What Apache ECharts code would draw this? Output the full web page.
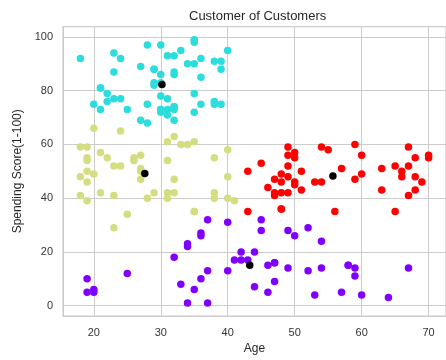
<!DOCTYPE html>
<html>
<head>
<meta charset="utf-8">
<script src="https://cdn.jsdelivr.net/npm/echarts@6/dist/echarts.min.js"></script>
<style>
  html, body { margin: 0; padding: 0; background: #fff; }
  #chart { width: 446px; height: 360px; }
</style>
</head>
<body>
<div id="chart"></div>
<script>
// [age, spending score] per cluster
const clusterCyan = [
  [21,81],[23,77],[22,76],[23,94],[30,72],[35,99],[24,77],[22,79],[35,98],[25,73],
  [31,73],[29,82],[23,87],[21,73],[18,92],[21,81],[30,73],[20,75],[24,92],[39,91],
  [31,77],[40,95],[38,75],[39,75],[31,71],[29,88],[32,73],[35,72],[32,93],[32,87],
  [28,97],[32,74],[34,90],[39,88],[38,76],[27,89],[30,78],[30,73],[29,83],[31,93],
  [36,75],[33,95],[28,75],[36,92],[30,86],[27,69],[35,90],[32,86],[29,88],[30,97],
  [28,68],[36,85],[32,69],[38,91],[35,79],[32,74],[30,83]
];
const clusterYellow = [
  [19,39],[31,40],[35,35],[20,66],[35,35],[35,61],[31,61],[24,65],[27,47],[29,42],
  [31,42],[33,60],[31,54],[27,51],[19,55],[18,59],[19,59],[32,47],[26,54],[40,48],
  [23,52],[38,55],[21,57],[22,55],[34,60],[18,41],[40,40],[32,42],[24,52],[27,50],
  [20,49],[23,41],[26,55],[21,42],[19,54],[38,42],[19,46],[18,48],[19,50],[27,56],
  [38,40],[40,58],[23,29],[25,34],[28,40],[32,63],[41,39]
];
const clusterRed = [
  [65,35],[48,36],[50,55],[49,52],[59,60],[50,45],[47,41],[51,50],[69,46],[53,46],
  [70,56],[67,52],[54,59],[63,51],[43,50],[68,48],[70,55],[47,42],[60,49],[60,56],
  [59,47],[45,53],[49,42],[57,51],[67,41],[46,44],[48,46],[55,58],[50,46],[68,55],
  [48,49],[47,47],[48,42],[49,48],[67,59],[49,56],[66,50],[54,46],[68,43],[66,48],
  [65,52],[63,43],[49,59],[51,43],[50,57],[43,35],[48,36],[56,35]
];
const clusterPurple = [
  [20,6],[35,6],[64,3],[67,14],[58,15],[37,13],[52,29],[46,5],[54,14],[45,32],
  [40,31],[60,4],[53,4],[49,14],[42,17],[36,26],[49,28],[59,11],[47,9],[20,5],
  [44,7],[19,10],[57,5],[25,12],[34,22],[43,17],[44,20],[47,16],[37,1],[34,1],
  [19,5],[50,26],[42,20],[36,27],[40,13],[36,10],[52,13],[58,15],[59,14],[37,32],
  [46,15],[54,24],[41,17],[34,23],[33,8],[47,16],[45,28],[32,18]
];
const centroids = [[30.18,82.35],[27.62,49.14],[55.71,48.23],[43.29,15.02]];

const chart = echarts.init(document.getElementById('chart'));
const font = 'Liberation Sans, Arial, sans-serif';
const gridColor = '#cccccc';

function dots(data, color, z) {
  return {
    type: 'scatter',
    data: data,
    symbolSize: 7.5,
    itemStyle: { color: color, opacity: 1 },
    z: z
  };
}

chart.setOption({
  animation: false,
  title: {
    text: 'Customer of Customers',
    left: 189, top: 10, padding: 0,
    textStyle: { fontFamily: font, fontSize: 13, fontWeight: 'normal', color: '#262626' }
  },
  grid: {
    left: 63, top: 26.5, width: 392, height: 292.5,
    show: true, borderColor: gridColor, borderWidth: 1.25, backgroundColor: '#fff'
  },
  xAxis: {
    type: 'value',
    min: 15.4, max: 72.6,
    splitNumber: 5,
    name: 'Age',
    nameLocation: 'middle',
    nameGap: 26,
    nameTextStyle: { fontFamily: font, fontSize: 12, color: '#262626' },
    axisLine: { show: false },
    axisTick: { show: false },
    axisLabel: {
      fontFamily: font, fontSize: 11, color: '#333', margin: 11,
      showMinLabel: false, showMaxLabel: false,
      formatter: v => (Math.abs(v % 10) < 1e-6 ? String(v) : '')
    },
    splitLine: { show: true, lineStyle: { color: gridColor, width: 1 } }
  },
  yAxis: {
    type: 'value',
    min: -3.9, max: 103.9,
    splitNumber: 5,
    name: 'Spending Score(1-100)',
    nameLocation: 'middle',
    nameGap: 34,
    nameTextStyle: { fontFamily: font, fontSize: 12, color: '#262626' },
    axisLine: { show: false },
    axisTick: { show: false },
    axisLabel: {
      fontFamily: font, fontSize: 11, color: '#333', margin: 10,
      showMinLabel: false, showMaxLabel: false,
      formatter: v => (Math.abs(v % 20) < 1e-6 ? String(v) : '')
    },
    splitLine: { show: true, lineStyle: { color: gridColor, width: 1 } }
  },
  series: [
    dots(clusterPurple, '#8000ff', 2),
    dots(clusterCyan, '#2bdddd', 2),
    dots(clusterYellow, '#d4dd80', 2),
    dots(clusterRed, '#ff0000', 2),
    dots(centroids, '#000000', 5)
  ]
});
</script>
</body>
</html>
